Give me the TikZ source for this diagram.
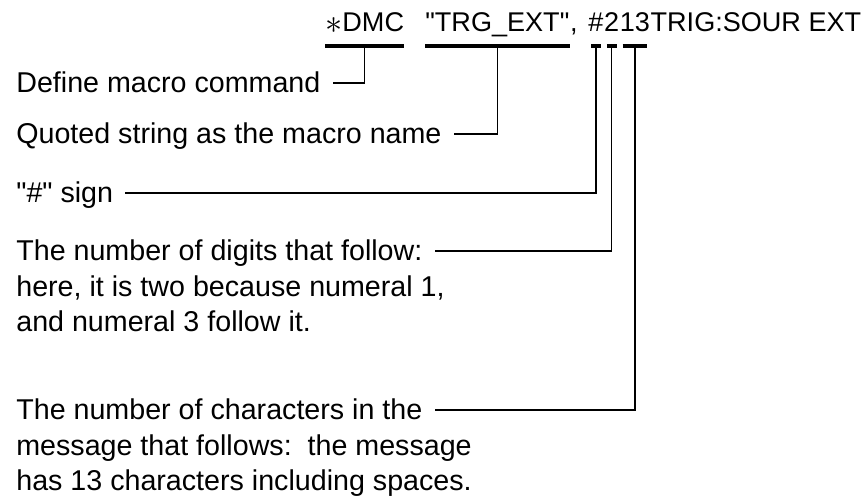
\documentclass[tikz,border=0pt]{standalone}
\usepackage{fontspec}
\setmainfont{Liberation Sans}
\usetikzlibrary{positioning}
\tikzset{
  ttl/.style={inner sep=0pt,font=\fontsize{15.4pt}{18pt}\selectfont},
  lbl/.style={anchor=base west,inner sep=0pt,text height=11.4pt,text depth=0pt,font=\fontsize{16.3pt}{19pt}\selectfont},
  next/.style={below=0.71cm of #1.base west,anchor=base west},
  bar/.style={line width=2.4pt},
  lead/.style={line width=0.8pt,shorten >=0.24cm}
}
\begin{document}
\begin{tikzpicture}
\useasboundingbox (0,0) rectangle (17.34,10);
%\draw[help lines] (0,0)grid(17,10);
\draw (6.5,9.36)coordinate(a)
      (8.5,9.36)coordinate(b)
      (11.76,9.36)coordinate(c)
      (0.32,8.14)coordinate(d)
      (0.32,7.12)coordinate(e)
      (0.32,5.94)coordinate(f)
      (0.32,4.78)coordinate(g)
      (0.32,1.6)coordinate(h);
\node[ttl,anchor=base west] (t1) at (a) {\raisebox{-0.05em}{\scalebox{1.35}{$\ast$}}DMC};
\node[ttl,anchor=base west] (t2) at (b) {\textquotedbl TRG\_EXT\textquotedbl};
\node[ttl,base right=0pt of t2] (t3) {,};
\node[ttl,anchor=base west] (t4) at (c) {\#};
\node[ttl,base right=0pt of t4] (t5) {2};
\node[ttl,base right=0pt of t5] (t6) {13};
\node[ttl,base right=0pt of t6] (t7) {TRIG:SOUR EXT};
\node[lbl] (l1) at (d) {Define macro command};
\node[lbl] (l2) at (e) {Quoted string as the macro name};
\node[lbl] (l3) at (f) {\textquotedbl\#\textquotedbl\ sign};
\node[lbl] (l4) at (g) {The number of digits that follow:};
\node[lbl,next=l4] (l5) {here, it is two because numeral 1,};
\node[lbl,next=l5] (l6) {and numeral 3 follow it.};
\node[lbl] (l7) at (h) {The number of characters in the};
\node[lbl,next=l7] (l8) {message that follows:\ \ the message};
\node[lbl,next=l8] (l9) {has 13 characters including spaces.};
\draw[bar] ([yshift=-0.28cm]t1.base west)--([yshift=-0.28cm]t1.base east);
\draw[bar] ([yshift=-0.28cm]t2.base west)--([yshift=-0.28cm]t2.base east);
\foreach \n in {t4,t5,t6}
  \draw[bar,shorten <=0.06cm,shorten >=0.06cm] ([yshift=-0.28cm]\n.base west)--([yshift=-0.28cm]\n.base east);
\draw[lead] ([yshift=-0.28cm]t1.base) |- (l1.east);
\draw[lead] ([yshift=-0.28cm]t2.base) |- (l2.east);
\draw[lead] ([yshift=-0.28cm]t4.base) |- (l3.east);
\draw[lead] ([yshift=-0.28cm]t5.base) |- (l4.east);
\draw[lead] ([yshift=-0.28cm]t6.base) |- (l7.east);
\end{tikzpicture}
\end{document}
